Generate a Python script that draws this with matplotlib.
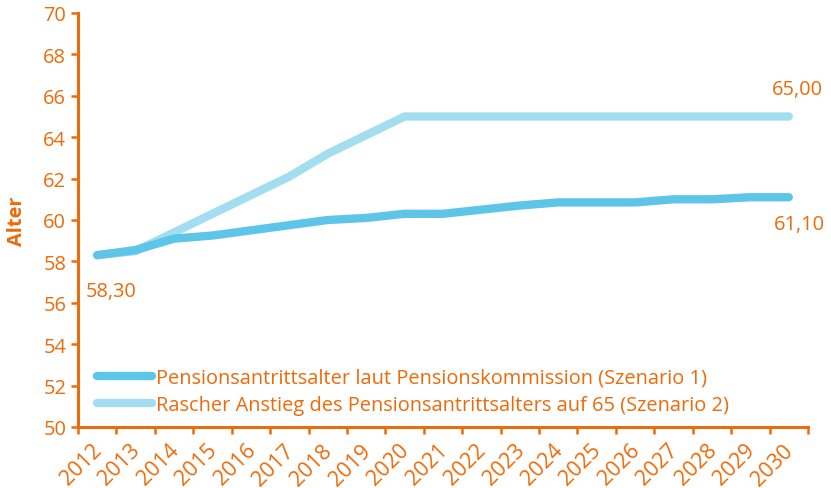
import matplotlib
matplotlib.use("Agg")
import matplotlib.pyplot as plt
from matplotlib.transforms import ScaledTranslation

years = [str(y) for y in range(2012, 2031)]
szenario1 = [58.3, 58.55, 59.1, 59.25, 59.5, 59.75, 60.0, 60.1, 60.3, 60.3,
             60.5, 60.7, 60.85, 60.85, 60.85, 61.0, 61.0, 61.1, 61.1]
szenario2 = [58.3, 58.5, 59.4, 60.3, 61.2, 62.1, 63.2, 64.1, 65.0, 65.0,
             65.0, 65.0, 65.0, 65.0, 65.0, 65.0, 65.0, 65.0, 65.0]
label1 = "Pensionsantrittsalter laut Pensionskommission (Szenario 1)"
label2 = "Rascher Anstieg des Pensionsantrittsalters auf 65 (Szenario 2)"

orange = "#ec6b0a"
dark_blue = "#5dc5e8"
light_blue = "#a3ddf0"
fs = 14.4

plt.rcParams['font.family'] = ['Open Sans', 'DejaVu Sans']

fig = plt.figure(figsize=(8.31, 4.89), dpi=100)
ax = fig.add_axes([78 / 831, 1 - 428 / 489, 730 / 831, 414 / 489])

x = list(range(len(years)))
l2, = ax.plot(x, szenario2, color=light_blue, lw=6, solid_capstyle='round',
              solid_joinstyle='round', label=label2, zorder=2)
l1, = ax.plot(x, szenario1, color=dark_blue, lw=6, solid_capstyle='round',
              solid_joinstyle='round', label=label1, zorder=3)

ax.set_xlim(-0.5, len(years) - 0.5)
ax.set_ylim(50, 70)
ax.set_yticks(range(50, 71, 2))

# category boundaries get tick marks, labels sit at category centres
ax.set_xticks([i - 0.5 for i in range(len(years) + 1)])
ax.set_xticklabels([])
ax.set_xticks(x, minor=True)
ax.set_xticklabels(years, minor=True, rotation=45, ha='right', va='top',
                   rotation_mode='anchor', fontsize=15.5)
ax.tick_params(axis='x', which='minor', length=0, pad=9)
shift = ScaledTranslation(-6 / 100, 0, fig.dpi_scale_trans)
for lab in ax.get_xticklabels(minor=True):
    lab.set_transform(lab.get_transform() + shift)

for side in ['top', 'right']:
    ax.spines[side].set_visible(False)
for side in ['left', 'bottom']:
    ax.spines[side].set_color(orange)
    ax.spines[side].set_linewidth(2.2)

ax.tick_params(axis='both', which='major', color=orange, width=1.8, length=5)
ax.tick_params(axis='both', which='both', labelcolor=orange)
ax.tick_params(axis='y', labelsize=fs)

ax.set_ylabel("Alter", color=orange, fontsize=fs, fontweight='bold', labelpad=12)

ax.annotate("58,30", (0, szenario1[0]), xytext=(14, -36), textcoords='offset pixels',
            ha='center', va='center', color=orange, fontsize=fs)
ax.annotate("65,00", (x[-1], szenario2[-1]), xytext=(9, 27), textcoords='offset pixels',
            ha='center', va='center', color=orange, fontsize=fs, annotation_clip=False)
ax.annotate("61,10", (x[-1], szenario1[-1]), xytext=(11, -27), textcoords='offset pixels',
            ha='center', va='center', color=orange, fontsize=fs, annotation_clip=False)

leg = ax.legend(handles=[l1, l2], loc='lower left', bbox_to_anchor=(0.026, 0.03),
                frameon=False, borderpad=0, borderaxespad=0, handlelength=2.75,
                handletextpad=0.22, labelspacing=0.35, fontsize=fs)
for t in leg.get_texts():
    t.set_color(orange)

fig.savefig("out.png", dpi=100)
